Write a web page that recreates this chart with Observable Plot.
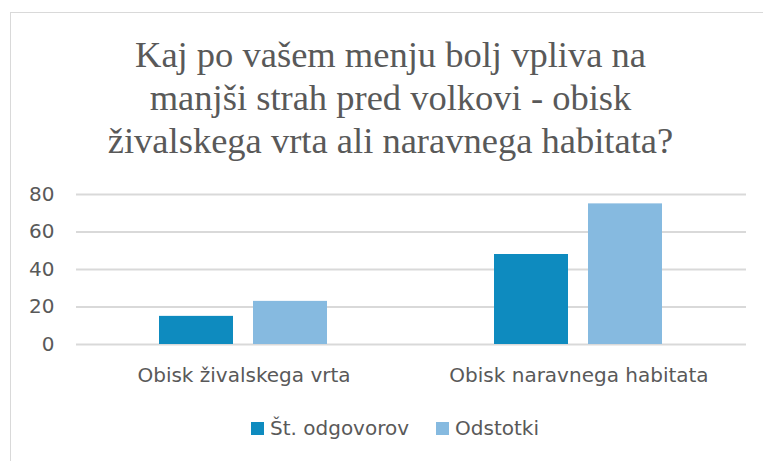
<!DOCTYPE html>
<html>
<head>
<meta charset="utf-8">
<script src="https://cdn.jsdelivr.net/npm/d3@7"></script>
<script src="https://cdn.jsdelivr.net/npm/@observablehq/plot@0.6"></script>
<style>
  html, body { margin: 0; padding: 0; background: #fff; }
  body { width: 763px; height: 461px; position: relative; overflow: hidden; }
  #frame { position: absolute; left: 10px; top: 12px; width: 800px; height: 500px; border: 1.5px solid #d9d9d9; box-sizing: border-box; }
  #title { position: absolute; left: 10px; width: 761px; top: 33px; text-align: center;
           font-family: "Liberation Serif", serif; font-size: 36.5px; line-height: 43px; color: #595959; }
  #chart { position: absolute; left: 0; top: 170px; }
  #legend { position: absolute; left: 251px; top: 418px; display: flex; align-items: flex-start;
            font-family: "DejaVu Sans", sans-serif; font-size: 20px; line-height: 20px; color: #595959; }
  .item { display: flex; align-items: flex-start; margin-right: 27px; }
  .sw { width: 13px; height: 13px; margin-top: 4px; margin-right: 6px; }
</style>
</head>
<body>
<div id="frame"></div>
<div id="title">Kaj po vašem menju bolj vpliva na<br>manjši strah pred volkovi - obisk<br>živalskega vrta ali naravnega habitata?</div>
<div id="chart"></div>
<div id="legend"></div>
<script>
const categories = ["Obisk živalskega vrta", "Obisk naravnega habitata"];
const series = ["Št. odgovorov", "Odstotki"];
const odgovorov = [15, 48];
const odstotki = [23, 75];
const yTicks = [0, 20, 40, 60, 80];
const colors = ["#0e8bbf", "#86bae0"];

const seriesValues = [odgovorov, odstotki];
const table = [];
categories.forEach((c, i) => {
  series.forEach((s, j) => {
    table.push({category: c, series: s, value: seriesValues[j][i]});
  });
});

const chart = Plot.plot({
  width: 763,
  height: 240,
  marginLeft: 75,
  marginRight: 17,
  marginTop: 24,
  marginBottom: 66,
  style: {fontFamily: "DejaVu Sans, sans-serif", fontSize: "20px", color: "#595959", background: "transparent"},
  fx: {domain: categories, padding: 0, axis: "bottom", tickSize: 0, tickPadding: 23.5, label: null},
  x: {domain: series, paddingInner: 0.2105, paddingOuter: 0.871, axis: null},
  y: {domain: [0, 80], axis: null},
  color: {domain: series, range: colors},
  marks: [
    Plot.gridY(yTicks, {stroke: "#d9d9d9", strokeOpacity: 1, strokeWidth: 2}),
    Plot.barY(table, {fx: "category", x: "series", y: "value", fill: "series"}),
    Plot.axisY(yTicks, {tickSize: 0, tickPadding: 22, label: null, fill: "#595959"})
  ]
});
document.getElementById("chart").appendChild(chart);

const legend = d3.select("#legend");
series.forEach((s, i) => {
  const it = legend.append("div").attr("class", "item");
  it.append("div").attr("class", "sw").style("background", colors[i]);
  it.append("span").text(s);
});
</script>
</body>
</html>
